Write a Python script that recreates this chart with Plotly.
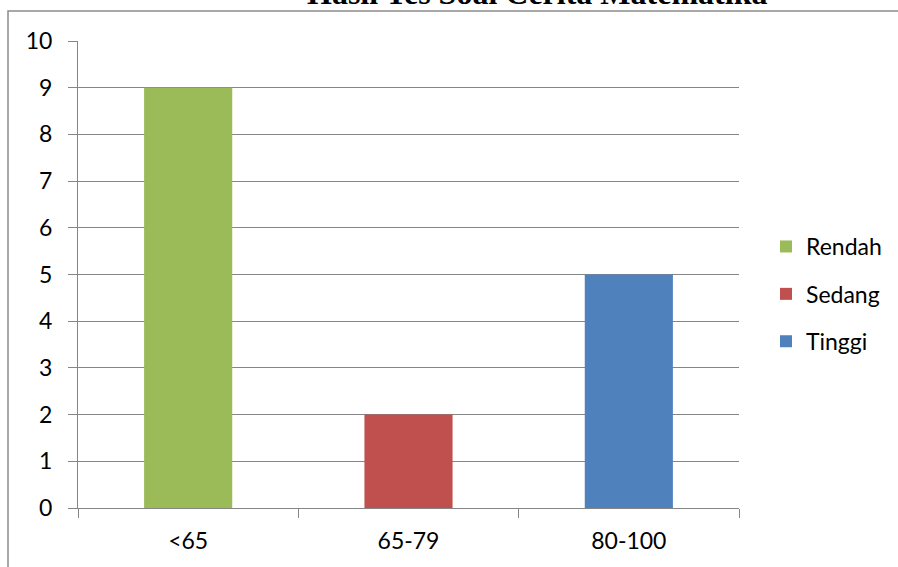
import plotly.graph_objects as go

# Score bands, their class labels and student counts
categories = ["<65", "65-79", "80-100"]
levels = ["Rendah", "Sedang", "Tinggi"]
counts = [9, 2, 5]
colors = ["#9BBB59", "#C0504D", "#4F81BD"]
y_ticks = list(range(0, 11))

W, H = 898, 567
ML, MR, MT, MB = 78, 159, 41, 59
PW, PH = W - ML - MR, H - MT - MB


def px_x(x):
    return (x - ML) / PW


def px_y(y):
    return (H - MB - y) / PH


fig = go.Figure()
for cat, lvl, val, col in zip(categories, levels, counts, colors):
    fig.add_trace(go.Bar(
        x=[cat], y=[val], name=lvl, width=0.4,
        marker=dict(color=col, line=dict(width=0)),
        legendgroup=lvl,
    ))

grid = "#868686"
fig.update_layout(
    width=W, height=H,
    margin=dict(l=ML, r=MR, t=MT, b=MB, autoexpand=False),
    paper_bgcolor="white", plot_bgcolor="white",
    barmode="overlay",
    font=dict(family="Lato, 'Open Sans', sans-serif", size=23, color="black"),
    showlegend=True,
    legend=dict(
        x=px_x(766), y=px_y(225), xanchor="left", yanchor="top",
        traceorder="grouped", tracegroupgap=14.5,
        font=dict(size=23), bgcolor="rgba(0,0,0,0)",
    ),
    xaxis=dict(
        categoryorder="array", categoryarray=categories,
        showline=True, linecolor=grid, linewidth=1,
        tickson="boundaries", ticks="outside", ticklen=9, tickcolor=grid,
        ticklabelstandoff=12,
        showgrid=False, zeroline=False,
    ),
    yaxis=dict(
        range=[0, 10], tickvals=y_ticks,
        showline=True, linecolor=grid, linewidth=1,
        ticks="outside", ticklen=9, tickcolor=grid,
        ticklabelstandoff=11,
        showgrid=True, gridcolor=grid, gridwidth=1,
        zeroline=False,
    ),
    annotations=[dict(
        text="<b>Hasil Tes Soal Cerita Matematika</b>",
        xref="paper", yref="paper", x=px_x(536.5), y=px_y(13),
        xanchor="center", yanchor="bottom", showarrow=False,
        font=dict(family="Liberation Serif, 'Times New Roman', serif", size=32, color="black"),
    )],
    shapes=[dict(
        type="path", xref="paper", yref="paper",
        path=f"M {px_x(8)},{px_y(600)} L {px_x(8)},{px_y(11)} L {px_x(910)},{px_y(11)}",
        line=dict(color="#8c8c8c", width=1.5),
    )],
)

fig.write_html("out.html")
